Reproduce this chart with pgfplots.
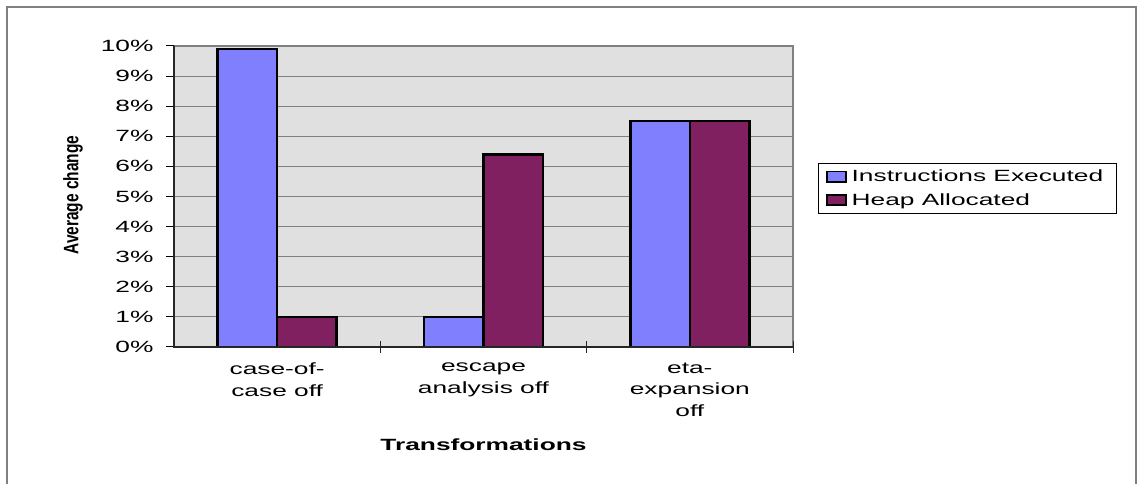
\documentclass[border=0pt]{standalone}
\usepackage{pgfplots}
\pgfplotsset{compat=1.18}
\usepackage{fontspec}
\setmainfont[FakeStretch=1.62]{Liberation Sans}
\newfontfamily\ylabfont[FakeStretch=0.74]{Liberation Sans}
\definecolor{barblue}{RGB}{128,128,255}
\definecolor{barred}{RGB}{128,32,96}
\definecolor{plotbg}{RGB}{224,224,224}
\definecolor{gridgray}{RGB}{128,128,128}
\begin{document}
\begin{tikzpicture}
\useasboundingbox (0bp,0bp) rectangle (1138bp,484bp);
\draw[gridgray, line width=2bp] (7bp,-20bp) -- (7bp,477bp) -- (1136bp,477bp) -- (1136bp,-20bp);
\begin{axis}[
  at={(174bp,137bp)}, anchor=south west,
  scale only axis, width=619bp, height=301bp,
  xmin=-0.5, xmax=2.5, ymin=0, ymax=10,
  ybar=0pt, bar width=59.5bp,
  axis background/.style={fill=plotbg},
  axis line style={draw=none},
  ytick={0,1,2,3,4,5,6,7,8,9,10},
  yticklabels={0\%,1\%,2\%,3\%,4\%,5\%,6\%,7\%,8\%,9\%,10\%},
  ytick pos=left,
  xtick={0,1,2},
  xticklabels={case-of-\\case off, escape\\analysis off, eta-\\expansion\\off},
  xtick style={draw=none},
  ytick style={black, line width=1bp},
  tick align=outside, major tick length=8bp,
  ymajorgrids, grid style={gridgray, line width=1bp},
  ticklabel style={font=\fontsize{16.3}{22}\selectfont},
  xticklabel style={align=center, yshift=-4bp},
  yticklabel style={xshift=-9bp},
  legend style={at={(1.04,0.527)}, anchor=west, draw=black, line width=0.8bp,
    font=\fontsize{16.3}{18}\selectfont, inner xsep=8bp, inner ysep=5bp, row sep=6bp,
    legend cell align=left,
    nodes={inner xsep=5bp}},
  clip=false,
]
\addplot[fill=barblue, draw=black, line width=2.4bp,
  legend image code/.code={\draw[fill=barblue,draw=black,line width=1.5bp] (0bp,-5bp) rectangle (19bp,5bp);}]
  coordinates {(0,9.9) (1,1.0) (2,7.5)};
\addplot[fill=barred, draw=black, line width=2.4bp,
  legend image code/.code={\draw[fill=barred,draw=black,line width=1.5bp] (0bp,-5bp) rectangle (19bp,5bp);}]
  coordinates {(0,1.0) (1,6.4) (2,7.5)};
\legend{Instructions Executed, Heap Allocated}
\draw[gridgray, line width=1.5bp] (rel axis cs:0,1) -- (rel axis cs:1,1) -- (rel axis cs:1,0);
\draw[black!85, line width=1.5bp] (rel axis cs:0,1) -- (rel axis cs:0,0) -- (rel axis cs:1,0);
\draw[black!85, line width=1bp] ([yshift=-6bp]rel axis cs:0.33333,0) -- ([yshift=6bp]rel axis cs:0.33333,0);
\draw[black!85, line width=1bp] ([yshift=-6bp]rel axis cs:0.66667,0) -- ([yshift=6bp]rel axis cs:0.66667,0);
\draw[black!85, line width=1bp] ([yshift=-6bp]rel axis cs:1,0) -- ([yshift=6bp]rel axis cs:1,0);
\end{axis}
\node[font=\fontsize{16.3}{18}\selectfont\bfseries] at (483.5bp,39bp) {Transformations};
\node[rotate=90, font=\fontsize{21}{23}\selectfont] at (73bp,289bp) {\ylabfont\bfseries Average change};
\end{tikzpicture}
\end{document}
